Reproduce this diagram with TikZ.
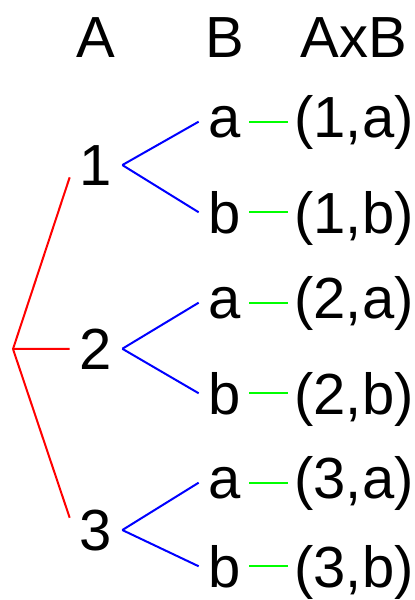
\documentclass[tikz,border=0pt]{standalone}
\usepackage{fontspec}
\setmainfont{Liberation Sans}
\usepackage{tikz}

\begin{document}
\begin{tikzpicture}[
      x=1pt, y=-1pt,
      lbl/.style={
        anchor=base, inner xsep=10pt, inner ysep=2pt,
        font=\fontsize{58}{60}\selectfont
      },
      edgeA/.style={red, line width=2pt},
      edgeB/.style={blue, line width=2pt},
      edgeP/.style={green, line width=2pt, shorten <=-2pt, shorten >=-4pt}
    ]
    \useasboundingbox (0,0) rectangle (415,600);
    % column heads
    \node[lbl] (headA) at (96,57) {A};
    \node[lbl] (headB) at (225,57) {B};
    \node[lbl] (headAB) at (354,57) {AxB};
    % elements of A
    \coordinate (root) at (13,349);
    \node[lbl] (one) at (96,185) {1};
    \node[lbl] (two) at (96,369) {2};
    \node[lbl] (three) at (96,550) {3};
    % elements of B
    \node[lbl] (a1) at (225,137) {a};
    \node[lbl] (b1) at (225,233) {b};
    \node[lbl] (a2) at (225,318) {a};
    \node[lbl] (b2) at (225,414) {b};
    \node[lbl] (a3) at (225,498) {a};
    \node[lbl] (b3) at (225,587) {b};
    % pairs
    \node[lbl] (p1a) at (354,137) {(1,a)};
    \node[lbl] (p1b) at (354,233) {(1,b)};
    \node[lbl] (p2a) at (354,318) {(2,a)};
    \node[lbl] (p2b) at (354,414) {(2,b)};
    \node[lbl] (p3a) at (354,498) {(3,a)};
    \node[lbl] (p3b) at (354,587) {(3,b)};
    \draw[edgeA] (root) -- (one.205);
    \draw[edgeA] (root) -- (two.west);
    \draw[edgeA] (root) -- (three.155);
    \draw[edgeB] (one.east) -- (a1.west);
    \draw[edgeB] (one.east) -- (b1.west);
    \draw[edgeB] (two.east) -- (a2.west);
    \draw[edgeB] (two.east) -- (b2.west);
    \draw[edgeB] (three.east) -- (a3.west);
    \draw[edgeB] (three.east) -- (b3.west);
    \draw[edgeP] (a1.east) -- (a1.east -| p1a.west);
    \draw[edgeP] (b1.east) -- (b1.east -| p1b.west);
    \draw[edgeP] (a2.east) -- (a2.east -| p2a.west);
    \draw[edgeP] (b2.east) -- (b2.east -| p2b.west);
    \draw[edgeP] (a3.east) -- (a3.east -| p3a.west);
    \draw[edgeP] (b3.east) -- (b3.east -| p3b.west);
  \end{tikzpicture}
\end{document}
